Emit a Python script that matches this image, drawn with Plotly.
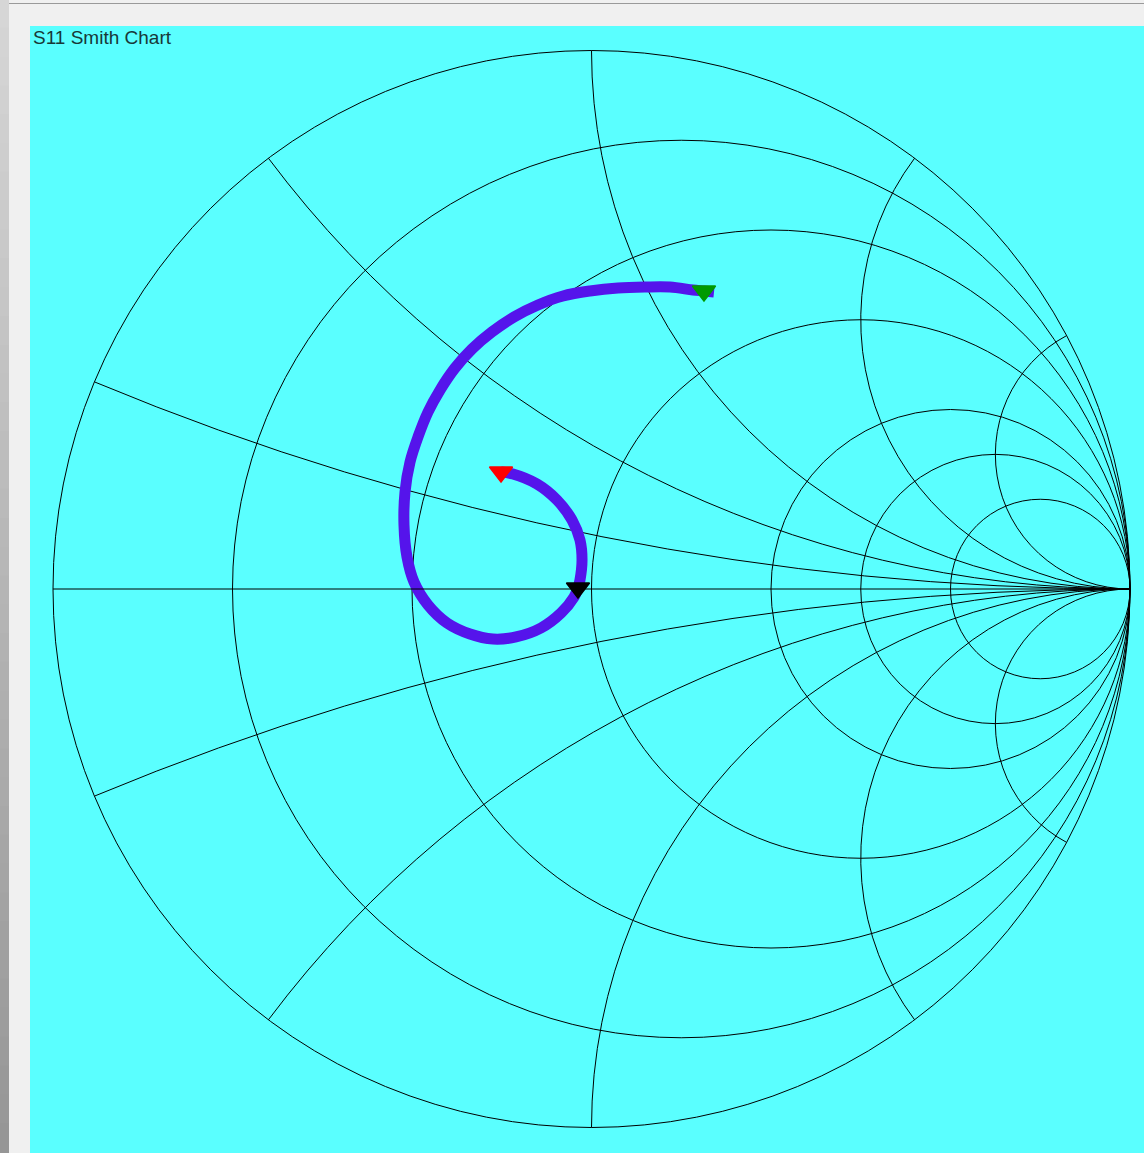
import numpy as np
import plotly.graph_objects as go

# S11 sweep as reflection coefficient (real, imaginary), first point -> last point
s11_re = [-0.1680, -0.1458, -0.1012, -0.0641, -0.0362, -0.0214, -0.0176, -0.0214,
          -0.0251, -0.0325, -0.0566, -0.0938, -0.1402, -0.1829, -0.2256, -0.2683,
          -0.3036, -0.3296, -0.3426, -0.3482, -0.3463, -0.3370, -0.3222, -0.3036,
          -0.2813, -0.2535, -0.2219, -0.1848, -0.1439, -0.0994, -0.0529, -0.0028,
          0.0492, 0.0994, 0.1458, 0.1885, 0.2089, 0.2275]
s11_im = [0.2173, 0.2136, 0.1950, 0.1653, 0.1281, 0.0910, 0.0539, 0.0167,
          0.0019, -0.0149, -0.0446, -0.0724, -0.0891, -0.0929, -0.0836, -0.0631,
          -0.0297, 0.0130, 0.0594, 0.1188, 0.1801, 0.2358, 0.2823, 0.3287,
          0.3695, 0.4104, 0.4457, 0.4773, 0.5051, 0.5274, 0.5441, 0.5534,
          0.5590, 0.5608, 0.5608, 0.5552, 0.5534, 0.5515]

# sweep markers: start, marker point, stop
marker_index = [0, 8, 36]
marker_colors = ["#FF0000", "#000000", "#009A00"]

# constant-resistance circles and constant-reactance arcs of the grid
resistance_grid = [0.2, 0.5, 1, 2, 3, 5]
reactance_grid = [-4, -2, -1, -0.5, -0.2, 0.2, 0.5, 1, 2, 4]

title_text = "S11 Smith Chart"

W, H = 1144, 1153
CYAN = "#5AFFFF"
TRACE = "#5514EB"

# normalised impedance from the reflection coefficient
gamma = np.array(s11_re) + 1j * np.array(s11_im)
z = (1 + gamma) / (1 - gamma)

fig = go.Figure()
fig.add_trace(go.Scattersmith(
    real=z.real, imag=z.imag, mode="lines",
    line=dict(color=TRACE, width=11, shape="spline", smoothing=1.0),
    hoverinfo="skip",
))
for idx, col in zip(marker_index, marker_colors):
    fig.add_trace(go.Scattersmith(
        real=[z[idx].real], imag=[z[idx].imag], mode="markers",
        marker=dict(symbol="triangle-down", size=20, color=col,
                    line=dict(width=1.5, color=col)),
        hoverinfo="skip",
    ))

# circle: centre (591.5, 589) px, radius 538.5 px
cx, cy, rad = 591.5, 589.0, 538.5
dom_x = [(cx - rad) / W, (cx + rad) / W]
dom_y = [(H - cy - rad) / H, (H - cy + rad) / H]

axis_style = dict(
    showticklabels=False, ticks="", gridcolor="#000000", gridwidth=1,
    linecolor="#000000", linewidth=1, showline=True, showgrid=True,
)

shapes = [
    # cyan panel
    dict(type="rect", xref="paper", yref="paper", x0=30 / W, x1=1.0,
         y0=0.0, y1=1 - 26 / H, fillcolor=CYAN, line=dict(width=0),
         layer="below"),
    # window top edge
    dict(type="line", xref="paper", yref="paper", x0=9 / W, x1=1.0,
         y0=1 - 3.5 / H, y1=1 - 3.5 / H, line=dict(color="#9A9A9A", width=1)),
]
# shaded strip down the left side
n_steps = 40
for i in range(n_steps):
    t = i / (n_steps - 1)
    g = int(round(214 - (214 - 150) * t))
    shapes.append(dict(
        type="rect", xref="paper", yref="paper", x0=0, x1=9 / W,
        y0=1 - (i + 1) / n_steps, y1=1 - i / n_steps + 0.001,
        fillcolor=f"rgb({g},{g},{g})", line=dict(width=0), layer="below"))

fig.update_layout(
    width=W, height=H, autosize=False,
    margin=dict(l=0, r=0, t=0, b=0, pad=0),
    paper_bgcolor="#F0F0F0",
    plot_bgcolor=CYAN,
    showlegend=False,
    smith=dict(
        domain=dict(x=dom_x, y=dom_y),
        bgcolor=CYAN,
        realaxis=dict(tickvals=resistance_grid, **axis_style),
        imaginaryaxis=dict(tickvals=reactance_grid, **axis_style),
    ),
    shapes=shapes,
    annotations=[dict(
        text=title_text, xref="paper", yref="paper", x=31 / W, y=1 - 25 / H,
        xanchor="left", yanchor="top", showarrow=False,
        font=dict(family="Liberation Sans", size=19, color="#183838"),
    )],
)

fig.write_html("out.html")
